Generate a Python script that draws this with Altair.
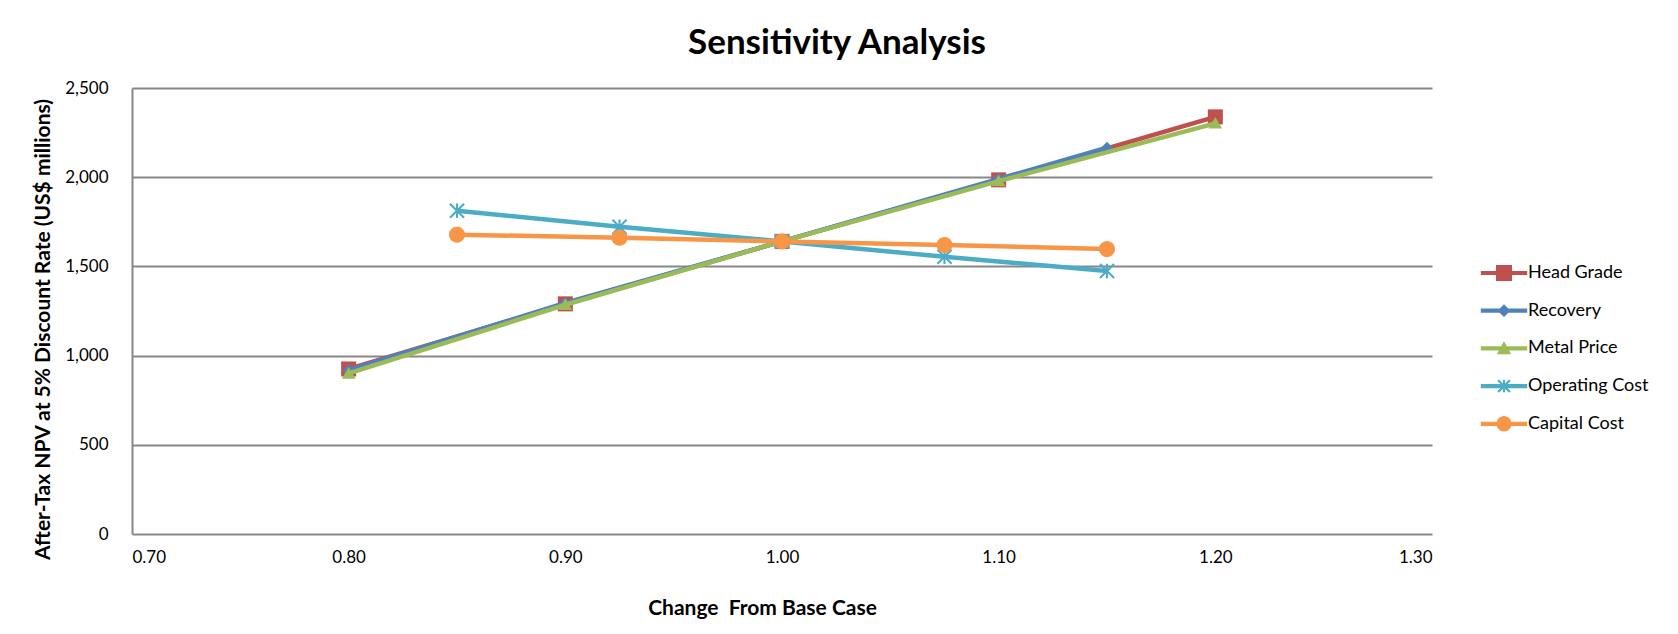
import math
import altair as alt
import pandas as pd

# ---- data ----
series = ["Head Grade", "Recovery", "Metal Price", "Operating Cost", "Capital Cost"]
colors = ["#C0504D", "#4F81BD", "#9BBB59", "#4BACC6", "#F79646"]

x_head = [0.80, 0.90, 1.00, 1.10, 1.20]
y_head = [925, 1290, 1640, 1985, 2338]
x_rec = [0.80, 0.90, 1.00, 1.10, 1.15]
y_rec = [918, 1295, 1640, 1990, 2165]
x_metal = [0.80, 0.90, 1.00, 1.10, 1.20]
y_metal = [900, 1285, 1640, 1978, 2302]
x_opex = [0.85, 0.925, 1.00, 1.075, 1.15]
y_opex = [1812, 1722, 1640, 1554, 1474]
x_capex = [0.85, 0.925, 1.00, 1.075, 1.15]
y_capex = [1678, 1661, 1640, 1620, 1597]

x_ticks = [0.70, 0.80, 0.90, 1.00, 1.10, 1.20, 1.30]
y_ticks = [0, 500, 1000, 1500, 2000, 2500]

xs = [x_head, x_rec, x_metal, x_opex, x_capex]
ys = [y_head, y_rec, y_metal, y_opex, y_capex]
rows = []
for name, xv, yv in zip(series, xs, ys):
    for a, b in zip(xv, yv):
        rows.append({"series": name, "x": a, "y": b})
df = pd.DataFrame(rows)


# ---- marker shapes (custom SVG paths, all filled, clockwise) ----
def fmt(v):
    s = f"{v:.3f}"
    s = s.rstrip("0").rstrip(".")
    return "0" if s in ("-0", "") else s


def poly(pts):
    area = 0.0
    for i in range(len(pts)):
        x1, y1 = pts[i]
        x2, y2 = pts[(i + 1) % len(pts)]
        area += x1 * y2 - x2 * y1
    if area < 0:
        pts = pts[::-1]
    s = "M" + fmt(pts[0][0]) + "," + fmt(pts[0][1])
    for p in pts[1:]:
        s += "L" + fmt(p[0]) + "," + fmt(p[1])
    return s + "Z"


def rect(x0, y0, x1, y1):
    return poly([(x0, y0), (x1, y0), (x1, y1), (x0, y1)])


def arm(angle_deg, L, t):
    a = math.radians(angle_deg)
    d = (math.cos(a), math.sin(a))
    n = (-math.sin(a), math.cos(a))
    return poly([(-L * d[0] + t * n[0], -L * d[1] + t * n[1]),
                 (L * d[0] + t * n[0], L * d[1] + t * n[1]),
                 (L * d[0] - t * n[0], L * d[1] - t * n[1]),
                 (-L * d[0] - t * n[0], -L * d[1] - t * n[1])])


def circle(r, n=28):
    return poly([(r * math.cos(2 * math.pi * i / n), r * math.sin(2 * math.pi * i / n)) for i in range(n)])


def square(h):
    return rect(-h, -h, h, h)


def diamond(h):
    return poly([(0, -h), (h, 0), (0, h), (-h, 0)])


def triangle(w, top, bottom):
    return poly([(0, top), (w, bottom), (-w, bottom)])


def asterisk(L, t, v):
    return arm(45, L, t) + arm(135, L, t) + arm(90, v, t)


plot_shapes = [
    square(0.94),
    diamond(0.75),
    triangle(0.85, -0.8, 0.65),
    asterisk(1.25, 0.13, 0.9),
    circle(1.0),
]

legend_line = rect(-1.45, -0.13, 1.45, 0.13)
legend_shapes = [
    legend_line + square(0.5),
    legend_line + diamond(0.4),
    legend_line + triangle(0.45, -0.45, 0.36),
    legend_line + asterisk(0.52, 0.07, 0.38),
    legend_line + circle(0.48),
]

FONT = "Lato"

x_axis = alt.Axis(
    values=x_ticks, format=".2f", grid=False, domain=False, ticks=False,
    labelFont=FONT, labelFontSize=17, labelColor="#000000", labelPadding=15,
    title="Change\u00a0 From Base Case", titleFont=FONT, titleFontSize=21,
    titleFontWeight="bold", titleColor="#000000",
    titleX=630, titleY=74, titleAlign="center", titleBaseline="middle",
)
y_axis = alt.Axis(
    values=y_ticks, format=",.0f", grid=True, gridColor="#878787", gridWidth=2,
    domain=True, domainColor="#878787", domainWidth=2, ticks=False,
    labelFont=FONT, labelFontSize=17, labelColor="#000000", labelPadding=24,
    title="After-Tax NPV at 5% Discount Rate (US$ millions)", titleFont=FONT,
    titleFontSize=21, titleFontWeight="bold", titleColor="#000000",
    titleAngle=270, titleX=-89, titleY=241, titleAlign="center", titleBaseline="middle",
)

X = alt.X("x:Q", scale=alt.Scale(domain=[0.7, 1.3], nice=False, zero=False), axis=x_axis)
Y = alt.Y("y:Q", scale=alt.Scale(domain=[0, 2500], nice=False), axis=y_axis)

base = alt.Chart(df)
layers = []
for name, color, shp in zip(series, colors, plot_shapes):
    sub = base.transform_filter(alt.datum.series == name)
    layers.append(sub.mark_line(color=color, strokeWidth=4.5, strokeJoin="round").encode(x=X, y=Y))
    layers.append(sub.mark_point(shape=shp, filled=True, color=color, size=256,
                                 opacity=1, strokeWidth=0).encode(x=X, y=Y))

leg = alt.Legend(
    title=None, orient="none", legendX=1356, legendY=169, padding=0,
    symbolSize=1024, symbolStrokeWidth=0, symbolOpacity=1,
    labelFont=FONT, labelFontSize=18, labelColor="#000000", labelOffset=8,
    rowPadding=12.7,
)
legend_layer = base.transform_filter("datum.y < -1").mark_point(
    filled=True, opacity=1, size=1024, strokeWidth=0
).encode(
    x=X, y=Y,
    color=alt.Color("series:N", scale=alt.Scale(domain=series, range=colors), legend=leg),
    shape=alt.Shape("series:N", scale=alt.Scale(domain=series, range=legend_shapes), legend=leg),
)
layers.append(legend_layer)

chart = alt.layer(*layers).properties(
    width=1300, height=446,
    autosize=alt.AutoSizeParams(type="none"),
    padding={"left": 124, "top": 80, "right": 238, "bottom": 92},
    title=alt.Title("Sensitivity Analysis", font=FONT, fontSize=35, fontWeight="bold",
                    color="#000000", anchor="middle", dx=55, offset=18),
    background="white",
).configure_view(stroke=None)

chart.save("out.html", embed_options={"renderer": "svg", "actions": False})
